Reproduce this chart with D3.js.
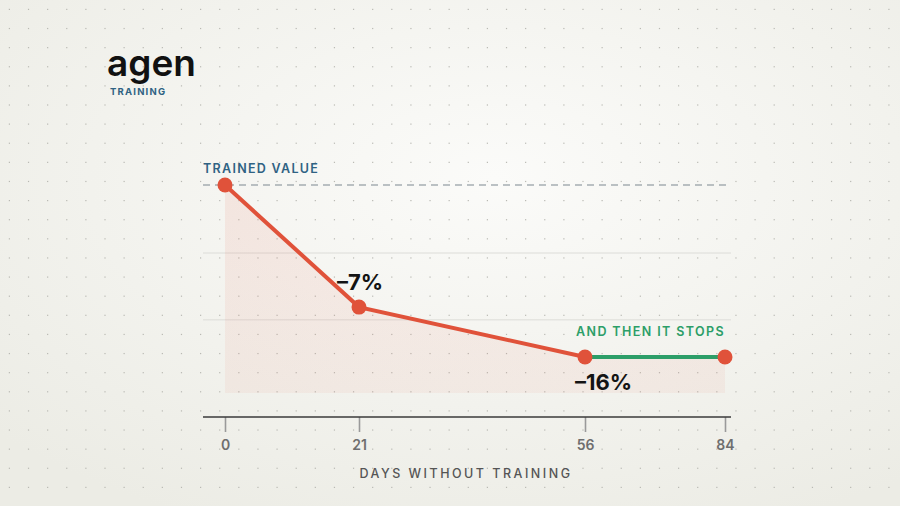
<!DOCTYPE html>
<html>
<head>
<meta charset="utf-8">
<script src="https://cdn.jsdelivr.net/npm/d3@7"></script>
<style>
  html, body { margin: 0; padding: 0; background: #f1f1ed; }
  svg { display: block; }
</style>
</head>
<body>
<svg id="chart"></svg>
<script>
// Data
const days = [0, 21, 56, 84];
const change = [0, -7, -16, -16];
const tickDays = [0, 21, 56, 84];
const gridVals = [-3.9, -9.3];
const labels = ["–7%", "–16%"];
const plateauFrom = 56;

const W = 900, H = 506;
const margin = {top: 185, right: 175, bottom: 113, left: 225};
const width = W - margin.left - margin.right,
    height = H - margin.top - margin.bottom;
const font = "Inter, 'Noto Sans', sans-serif";

const svg = d3.select("#chart")
    .attr("width", W)
    .attr("height", H);

// Background gradient + dot grid
const defs = svg.append("defs");
const bg = defs.append("radialGradient")
    .attr("id", "bg").attr("cx", "0.55").attr("cy", "0.35").attr("r", "0.75");
bg.append("stop").attr("offset", "0%").attr("stop-color", "#fbfbf9");
bg.append("stop").attr("offset", "100%").attr("stop-color", "#ecece5");

const areaGrad = defs.append("linearGradient")
    .attr("id", "areaGrad").attr("x1", 0).attr("y1", 0).attr("x2", 0).attr("y2", 1);
areaGrad.append("stop").attr("offset", "0%").attr("stop-color", "#e0523a").attr("stop-opacity", 0.10);
areaGrad.append("stop").attr("offset", "100%").attr("stop-color", "#e0523a").attr("stop-opacity", 0.06);

svg.append("rect").attr("width", W).attr("height", H).attr("fill", "url(#bg)");

const step = 19.12;
const dots = [];
for (let gx = 9.4; gx < W; gx += step)
    for (let gy = 9.4; gy < H; gy += step) dots.push([gx, gy]);
svg.append("g").selectAll("rect")
    .data(dots)
    .enter().append("rect")
    .attr("x", d => d[0] - 0.6).attr("y", d => d[1] - 0.6)
    .attr("width", 1.2).attr("height", 1.2)
    .attr("fill", "#b9b9b3");

// Logo
svg.append("text")
    .attr("x", 107).attr("y", 76)
    .attr("font-family", font)
    .attr("font-weight", 600)
    .attr("font-size", 37)
    .attr("letter-spacing", 0)
    .attr("fill", "#111")
    .text("agen");
svg.append("text")
    .attr("x", 110).attr("y", 95)
    .attr("font-family", font)
    .attr("font-weight", 700)
    .attr("font-size", 9.5)
    .attr("letter-spacing", 1.2)
    .attr("fill", "#2f6283")
    .text("TRAINING");

const g = svg.append("g")
    .attr("transform", `translate(${margin.left},${margin.top})`);

// Scales (the picture spaces the ticks unevenly, so piecewise)
const x = d3.scaleLinear()
    .domain(tickDays)
    .range([0, 0.268, 0.72, 1].map(f => f * width));

const y = d3.scaleLinear()
    .domain([0, -7, -16, -19.5])
    .range([0, 0.587, 0.827, 1].map(f => f * height));

// Gridlines
g.append("g").selectAll("line")
    .data(gridVals)
    .enter().append("line")
    .attr("x1", -22).attr("x2", width + 6)
    .attr("y1", d => y(d)).attr("y2", d => y(d))
    .attr("stroke", "#dcdcd8").attr("stroke-width", 1);

// Trained value reference
g.append("line")
    .attr("x1", -22).attr("x2", width + 6)
    .attr("y1", y(0)).attr("y2", y(0))
    .attr("stroke", "#7d8890").attr("stroke-width", 1.2)
    .attr("stroke-dasharray", "7,5");

g.append("text")
    .attr("x", -22).attr("y", y(0) - 12)
    .attr("font-family", font)
    .attr("font-weight", 600)
    .attr("font-size", 12.5)
    .attr("letter-spacing", 1.3)
    .attr("fill", "#2f6283")
    .text("TRAINED VALUE");

const pts = days.map((d, i) => ({day: d, v: change[i]}));

// Area under the line
g.append("path")
    .datum(pts)
    .attr("fill", "url(#areaGrad)")
    .attr("d", d3.area().x(d => x(d.day)).y0(height).y1(d => y(d.v)));

// Decline line, then the plateau
const declinePts = pts.filter(d => d.day <= plateauFrom);
const plateauPts = pts.filter(d => d.day >= plateauFrom);
const line = d3.line().x(d => x(d.day)).y(d => y(d.v));

g.append("path")
    .datum(declinePts)
    .attr("fill", "none")
    .attr("stroke", "#e0523a")
    .attr("stroke-width", 4)
    .attr("d", line);

g.append("path")
    .datum(plateauPts)
    .attr("fill", "none")
    .attr("stroke", "#2c9e68")
    .attr("stroke-width", 4)
    .attr("d", line);

g.append("g").selectAll("circle")
    .data(pts)
    .enter().append("circle")
    .attr("cx", d => x(d.day)).attr("cy", d => y(d.v))
    .attr("r", 7.5)
    .attr("fill", "#e0523a");

// Value labels
g.append("text")
    .attr("x", x(21) - 22).attr("y", y(-7) - 17)
    .attr("font-family", font)
    .attr("font-weight", 700)
    .attr("font-size", 22)
    .attr("fill", "#141414")
    .text(labels[0]);
g.append("text")
    .attr("x", x(56) - 10).attr("y", y(-16) + 33)
    .attr("font-family", font)
    .attr("font-weight", 700)
    .attr("font-size", 22)
    .attr("fill", "#141414")
    .text(labels[1]);

g.append("text")
    .attr("x", width).attr("y", y(-16) - 21)
    .attr("text-anchor", "end")
    .attr("font-family", font)
    .attr("font-weight", 600)
    .attr("font-size", 12.5)
    .attr("letter-spacing", 1.4)
    .attr("fill", "#2c9e68")
    .text("AND THEN IT STOPS");

// X axis
const axisY = height + 24;
const xAxis = g.append("g")
    .attr("transform", `translate(0,${axisY})`)
    .call(d3.axisBottom(x).tickValues(tickDays).tickSize(15).tickPadding(8).tickSizeOuter(0));
xAxis.select(".domain").remove();
xAxis.append("line")
    .attr("x1", -22).attr("x2", width + 6)
    .attr("stroke", "#3a3a3a").attr("stroke-width", 1.6);
xAxis.selectAll(".tick line").attr("stroke", "#9a9a9a").attr("stroke-width", 1.6);
xAxis.selectAll(".tick text")
    .attr("font-family", font)
    .attr("font-weight", 600)
    .attr("font-size", 14)
    .attr("fill", "#6e6e6e");

g.append("text")
    .attr("x", (x(0) + x(84)) / 2 - 9).attr("y", axisY + 61)
    .attr("text-anchor", "middle")
    .attr("font-family", font)
    .attr("font-weight", 500)
    .attr("font-size", 12.5)
    .attr("letter-spacing", 2.5)
    .attr("fill", "#555")
    .text("DAYS WITHOUT TRAINING");
</script>
</body>
</html>
